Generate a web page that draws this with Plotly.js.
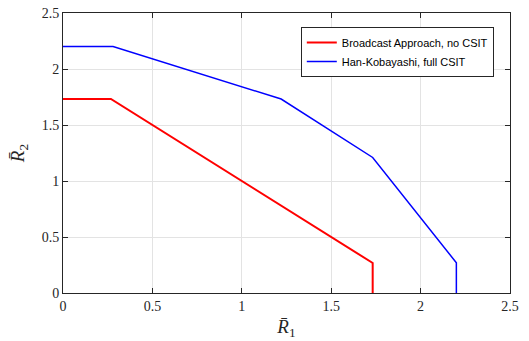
<!DOCTYPE html>
<html>
<head>
<meta charset="utf-8">
<script src="https://cdn.plot.ly/plotly-3.0.1.min.js"></script>
<style>html,body{margin:0;padding:0;background:#fff;}#chart{width:529px;height:341px;}</style>
</head>
<body>
<div id="chart"></div>
<script>
// Data
const broadcastR1 = [0, 0.268, 1.732, 1.732];
const broadcastR2 = [1.732, 1.732, 0.268, 0];
const hkR1 = [0, 0.28, 1.22, 1.732, 2.2, 2.2];
const hkR2 = [2.2, 2.2, 1.732, 1.21, 0.27, 0];
const seriesNames = ['Broadcast Approach, no CSIT', 'Han-Kobayashi, full CSIT'];
const tickVals = [0, 0.5, 1, 1.5, 2, 2.5];
const tickText = ['0', '0.5', '1', '1.5', '2', '2.5'];

const serif = "'Liberation Serif', 'DejaVu Serif', serif";

const traces = [
  {x: broadcastR1, y: broadcastR2, mode: 'lines', name: seriesNames[0],
   line: {color: '#ff0000', width: 2}},
  {x: hkR1, y: hkR2, mode: 'lines', name: seriesNames[1],
   line: {color: '#0000ff', width: 1.5}}
];

const axisCommon = {
  tickvals: tickVals, ticktext: tickText,
  ticks: 'inside', ticklen: 5, tickcolor: '#262626',
  showline: true, linecolor: '#262626', linewidth: 1, mirror: 'ticks',
  showgrid: true, gridcolor: '#e3e3e3', gridwidth: 1,
  zeroline: false,
  tickfont: {family: serif, size: 14, color: '#262626'}
};

const layout = {
  width: 529, height: 341,
  margin: {l: 63, r: 19, t: 13, b: 48},
  paper_bgcolor: '#ffffff', plot_bgcolor: '#ffffff',
  showlegend: true,
  xaxis: Object.assign({}, axisCommon, {
    range: [0, 2.5],
    title: {text: '<i>R\u0304</i><sub>1</sub>', standoff: 6,
      font: {family: serif, size: 19, color: '#262626'}}
  }),
  yaxis: Object.assign({}, axisCommon, {
    range: [0, 2.5],
    title: {text: '<i>R\u0304</i><sub>2</sub>', standoff: 12,
      font: {family: serif, size: 19, color: '#262626'}}
  }),
  legend: {
    x: 0.532, y: 0.95, xanchor: 'left', yanchor: 'top',
    bgcolor: '#ffffff', bordercolor: '#262626', borderwidth: 1,
    font: {family: "'Liberation Sans', Arial, sans-serif", size: 11, color: '#000000'},
    itemwidth: 30, tracegroupgap: 0
  }
};

Plotly.newPlot('chart', traces, layout, {displayModeBar: false, staticPlot: true});
</script>
</body>
</html>
